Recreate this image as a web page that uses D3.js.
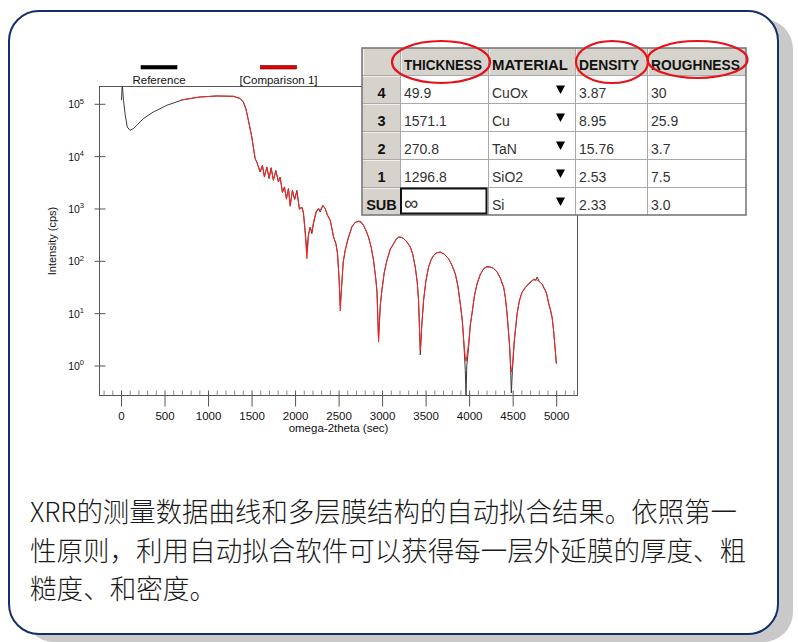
<!DOCTYPE html>
<html><head><meta charset="utf-8">
<script src="https://cdn.jsdelivr.net/npm/d3@7"></script>
<style>
html,body{margin:0;padding:0;background:#fff;}
svg{display:block;}
</style></head><body>
<svg id="fig" width="798" height="642"></svg>
<script>
// ---- measured scan (omega-2theta sec, intensity cps) ----
const referenceScan = [
  [6,1.17e5],[14,2.4e5],[29,1.17e5],[46,6.5e4],[72,3.6e4],[104,3.11e4],[138,3.33e4],[181,3.88e4],
  [256,5.21e4],[371,6.97e4],[526,9.36e4],[716,1.2e5],[909,1.35e5],[1101,1.41e5],[1291,1.39e5],
  [1369,1.26e5],[1406,1.08e5],[1434,8.09e4],[1464,4.84e4],[1503,2.32e4],[1541,8.96e3],[1561,7.71e3],
  [1599,4.96e3],[1625,6.67e3],[1648,3.98e3],[1676,6.19e3],[1702,3.72e3],[1725,6.03e3],[1751,3.44e3],
  [1779,5.35e3],[1809,3.2e3],[1829,3.98e3],[1855,2.06e3],[1878,2.57e3],[1901,1.56e3],[1924,2.39e3],
  [1944,1.15e3],[1970,2.22e3],[1995,1.49e3],[2021,2.22e3],[2050,991],[2078,1060],[2096,853],
  [2116,381],[2136,150],[2154,330],[2174,441],[2193,330],[2212,512],[2243,853],[2269,991],
  [2289,853],[2320,1150],[2346,991],[2372,738],[2404,592],[2423,411],[2442,284],[2469,212],
  [2488,137],[2507,42],[2519,14],[2536,34],[2553,93],[2576,158],[2611,268],[2653,441],[2691,542],
  [2729,566],[2760,542],[2786,475],[2818,365],[2844,284],[2875,180],[2902,102],[2927,46],[2941,27],
  [2959,3.2],[2979,14],[2998,27],[3025,60],[3056,102],[3094,165],[3132,212],[3163,257],[3189,284],
  [3220,280],[3247,265],[3283,230],[3324,183],[3352,133],[3381,76],[3404,39],[3419,17.5],[3439,1.6],
  [3456,5.8],[3477,17.5],[3502,40],[3534,76],[3565,106],[3592,127],[3628,142],[3669,147],[3715,133],
  [3764,110],[3801,84],[3841,57],[3870,34],[3899,15],[3922,7.2],[3937,3.0],[3956,0.8],[3964,0.25],
  [3973,1.0],[3994,2.2],[4013,5.8],[4033,9.7],[4060,21],[4091,36],[4129,55],[4167,71],[4204,78],
  [4244,76],[4278,72],[4321,61],[4359,46],[4397,31],[4416,20],[4436,9.7],[4451,4.7],[4466,2.2],
  [4477,0.8],[4485,0.3],[4497,0.8],[4520,3.0],[4551,9.7],[4577,17.5],[4608,25],[4646,31],[4684,36],
  [4715,40],[4742,45],[4761,42],[4781,49],[4807,40],[4838,36],[4859,30],[4876,27],[4893,23],
  [4914,15],[4934,11.8],[4953,8.4],[4968,5.1],[4980,3.0],[5002,1.08]
];

// ---- fitted model (Comparison 1) ----
const comparisonScan = [
  [690,1.18e5],[909,1.35e5],[1101,1.41e5],[1291,1.39e5],[1369,1.26e5],[1406,1.08e5],[1434,8.1e4],
  [1464,4.8e4],[1503,2.3e4],[1541,9.0e3],[1561,7.6e3],[1599,5.0e3],[1625,6.6e3],[1648,4.1e3],
  [1676,6.1e3],[1702,3.8e3],[1725,5.9e3],[1751,3.5e3],[1779,5.2e3],[1809,3.3e3],[1829,3.9e3],
  [1855,2.0e3],[1878,2.6e3],[1901,1.5e3],[1924,2.4e3],[1944,1.1e3],[1970,2.2e3],[1995,1.5e3],
  [2021,2.1e3],[2050,950],[2078,1050],[2096,800],[2116,330],[2136,110],[2154,300],[2174,430],
  [2193,360],[2212,560],[2243,880],[2269,1000],[2289,940],[2320,1120],[2346,1000],[2372,760],
  [2404,600],[2423,420],[2442,290],[2469,215],[2488,140],[2507,40],[2519,11],[2536,34],[2553,95],
  [2576,160],[2611,275],[2653,450],[2691,540],[2729,575],[2760,555],[2786,480],[2818,370],[2844,285],
  [2875,180],[2902,100],[2927,45],[2941,25],[2959,2.8],[2979,14],[2998,28],[3025,60],[3056,104],
  [3094,168],[3132,215],[3163,262],[3189,285],[3220,283],[3247,268],[3283,232],[3324,185],[3352,134],
  [3381,75],[3404,38],[3419,17],[3439,1.9],[3456,6],[3477,18],[3502,40],[3534,77],[3565,107],
  [3592,128],[3628,143],[3669,146],[3715,134],[3764,109],[3801,83],[3841,56],[3870,33],[3899,14.5],
  [3922,7],[3937,3.1],[3956,1.4],[3964,1.2],[3973,1.5],[3994,2.6],[4013,6],[4033,10],[4060,21],
  [4091,37],[4129,56],[4167,70],[4204,76],[4244,76],[4278,72],[4321,62],[4359,47],[4397,31],
  [4416,20],[4436,9.5],[4451,4.6],[4466,2.2],[4477,1.0],[4485,0.75],[4497,1.0],[4520,3.2],
  [4551,9.8],[4577,17],[4608,25],[4646,31],[4684,37],[4715,41],[4742,43],[4761,43.5],[4781,43],
  [4807,40],[4838,36],[4859,31],[4876,27],[4893,22],[4914,15.5],[4934,11.5],[4953,8.2],[4968,5],
  [4980,3.1],[5002,1.1]
];

const seriesNames = ["Reference", "[Comparison 1]"];
const xMajorTicks = [0,500,1000,1500,2000,2500,3000,3500,4000,4500,5000];
const xMinorTicks = d3.range(-200, 5201, 100).filter(v => v % 500 !== 0);
const yTickExponents = [0,1,2,3,4,5];

// ---- layer stack table ----
const tableColumns = ["THICKNESS","MATERIAL","DENSITY","ROUGHNESS"];
const layerIds   = ["4","3","2","1","SUB"];
const thickness  = ["49.9","1571.1","270.8","1296.8","\u221E"];
const materials  = ["CuOx","Cu","TaN","SiO2","Si"];
const density    = ["3.87","8.95","15.76","2.53","2.33"];
const roughness  = ["30","25.9","3.7","7.5","3.0"];
const circledColumns = ["THICKNESS","DENSITY","ROUGHNESS"];

const captionLines = [
  "XRR的测量数据曲线和多层膜结构的自动拟合结果。依照第一",
  "性原则，利用自动拟合软件可以获得每一层外延膜的厚度、粗",
  "糙度、和密度。"
];

const svg = d3.select("#fig");
const latin = "'Liberation Sans', Arial, sans-serif";

// ---- rounded panel with drop shadow ----
svg.append("rect").attr("x",24).attr("y",19).attr("width",769).attr("height",623)
  .attr("rx",30).attr("fill","#c9c9c9");
svg.append("rect").attr("x",9).attr("y",11).attr("width",769).attr("height",623)
  .attr("rx",30).attr("fill","#fff").attr("stroke","#14306b").attr("stroke-width",2);

// ---- scales ----
const box = {left:99.5, top:86.5, right:577.5, bottom:395.5};
const x = d3.scaleLinear().domain([-247, 5245]).range([box.left, box.right]);
const y = d3.scaleLog().domain([0.267, 2.14e5]).range([box.bottom, box.top]);

svg.append("defs").append("clipPath").attr("id","plotClip")
  .append("rect").attr("x",box.left).attr("y",box.top)
  .attr("width",box.right-box.left).attr("height",box.bottom-box.top);

// plot frame
svg.append("rect").attr("x",box.left).attr("y",box.top)
  .attr("width",box.right-box.left).attr("height",box.bottom-box.top)
  .attr("fill","none").attr("stroke","#555").attr("stroke-width",1);

// ---- curves ----
const line = d3.line().x(d => x(d[0])).y(d => y(d[1]));
const curves = svg.append("g").attr("clip-path","url(#plotClip)");
curves.append("path").datum(referenceScan).attr("d",line)
  .attr("fill","none").attr("stroke","#3a3a3a").attr("stroke-width",1);
curves.append("path").datum(comparisonScan).attr("d",line)
  .attr("fill","none").attr("stroke","#ff2020").attr("stroke-width",1);

// ---- x axis ----
const gMinor = svg.append("g").attr("transform",`translate(0,${box.bottom})`)
  .call(d3.axisBottom(x).tickValues(xMinorTicks).tickSize(-5).tickFormat(""));
gMinor.select(".domain").remove();
gMinor.selectAll(".tick line").attr("stroke","#8a8a8a");

const gX = svg.append("g").attr("transform",`translate(0,${box.bottom})`)
  .call(d3.axisBottom(x).tickValues(xMajorTicks).tickSizeInner(11).tickSizeOuter(0).tickFormat(d3.format("d")));
gX.select(".domain").remove();
gX.selectAll(".tick line").attr("y1",-5).attr("stroke","#555");
gX.selectAll(".tick text").attr("y",24).attr("dy",null)
  .attr("font-family",latin).attr("font-size",11.5).attr("fill","#111");

svg.append("text").attr("x",(box.left+box.right)/2).attr("y",432)
  .attr("text-anchor","middle").attr("font-family",latin).attr("font-size",11.5)
  .attr("fill","#111").text("omega-2theta (sec)");

// ---- y axis ----
const gY = svg.append("g").attr("transform",`translate(${box.left},0)`)
  .call(d3.axisLeft(y).tickValues(yTickExponents.map(e => Math.pow(10,e))).tickSize(5).tickFormat(""));
gY.select(".domain").remove();
gY.selectAll(".tick line").attr("x1",6).attr("stroke","#555");

const yLabels = svg.append("g").selectAll("text").data(yTickExponents).join("text")
  .attr("x",84).attr("y",e => y(Math.pow(10,e)) + 4.5)
  .attr("text-anchor","end").attr("font-family",latin).attr("font-size",10.5).attr("fill","#111");
yLabels.append("tspan").text("10");
yLabels.append("tspan").attr("dy",-4.5).attr("font-size",7.5).text(e => e);

svg.append("text").attr("transform",`translate(56,${(box.top+box.bottom)/2}) rotate(-90)`)
  .attr("text-anchor","middle").attr("font-family",latin).attr("font-size",11)
  .attr("fill","#111").text("Intensity (cps)");

// ---- legend ----
const legendItems = [
  {name: seriesNames[0], cx: 159, fill: "#000", stroke: "#000"},
  {name: seriesNames[1], cx: 278.5, fill: "#e80000", stroke: "#5a0000"}
];
const lg = svg.append("g").selectAll("g").data(legendItems).join("g");
lg.append("rect").attr("x",d => d.cx-18).attr("y",65.5).attr("width",36).attr("height",3.5)
  .attr("fill",d => d.fill).attr("stroke",d => d.stroke).attr("stroke-width",0.6);
lg.append("text").attr("x",d => d.cx).attr("y",84).attr("text-anchor","middle")
  .attr("font-family",latin).attr("font-size",11.5).attr("fill","#111").text(d => d.name);

// ---- layer table ----
const colX = [362, 400, 488, 575, 647, 746];
const rowY = [48, 75, 103, 131, 159, 187, 215];
const headerFill = "#d6d3cc";
const tbl = svg.append("g");

// header row background
tbl.append("rect").attr("x",colX[0]).attr("y",rowY[0]).attr("width",colX[5]-colX[0])
  .attr("height",rowY[1]-rowY[0]).attr("fill",headerFill);
// row header column background
tbl.append("rect").attr("x",colX[0]).attr("y",rowY[1]).attr("width",colX[1]-colX[0])
  .attr("height",rowY[6]-rowY[1]).attr("fill",headerFill);
// data cells
tbl.append("rect").attr("x",colX[1]).attr("y",rowY[1]).attr("width",colX[5]-colX[1])
  .attr("height",rowY[6]-rowY[1]).attr("fill","#fff");

// grid lines
tbl.selectAll("line.v").data(colX.slice(1,5)).join("line").attr("class","v")
  .attr("x1",d => d+0.5).attr("x2",d => d+0.5).attr("y1",rowY[0]).attr("y2",rowY[6])
  .attr("stroke","#a9a9a9");
tbl.selectAll("line.h").data(rowY.slice(1,6)).join("line").attr("class","h")
  .attr("x1",colX[0]).attr("x2",colX[5]).attr("y1",d => d+0.5).attr("y2",d => d+0.5)
  .attr("stroke","#a9a9a9");
// raised look on header cells
tbl.selectAll("line.hl").data(colX.slice(0,5)).join("line").attr("class","hl")
  .attr("x1",d => d+1.5).attr("x2",d => d+1.5).attr("y1",rowY[0]+1).attr("y2",rowY[1])
  .attr("stroke","#f2f0ec");
tbl.selectAll("line.rl").data(rowY.slice(1,6)).join("line").attr("class","rl")
  .attr("x1",colX[0]+1).attr("x2",colX[1]).attr("y1",d => d+1.5).attr("y2",d => d+1.5)
  .attr("stroke","#f2f0ec");
// outer border
tbl.append("rect").attr("x",colX[0]).attr("y",rowY[0]).attr("width",colX[5]-colX[0])
  .attr("height",rowY[6]-rowY[0]).attr("fill","none").attr("stroke","#7a7a7a").attr("stroke-width",1.6);

// header labels
const headerWidths = [78, 76, 60, 89];
tbl.selectAll("text.hdr").data(tableColumns).join("text").attr("class","hdr")
  .attr("x",(d,i) => colX[i+1] + 4).attr("y",70)
  .attr("font-family",latin).attr("font-weight","bold").attr("font-size",14.5)
  .attr("textLength",(d,i) => headerWidths[i]).attr("lengthAdjust","spacingAndGlyphs")
  .attr("fill","#111").text(d => d);

// row labels
tbl.selectAll("text.rid").data(layerIds).join("text").attr("class","rid")
  .attr("x",(colX[0]+colX[1])/2 + 0.5).attr("y",(d,i) => rowY[i+1] + 22.5)
  .attr("text-anchor","middle").attr("font-family",latin).attr("font-weight","bold")
  .attr("font-size",14.5).attr("fill","#111").text(d => d);

// cell values
const cellColumns = [thickness, materials, density, roughness];
cellColumns.forEach((col, ci) => {
  tbl.selectAll(null).data(col).join("text")
    .attr("x",colX[ci+1] + 4).attr("y",(d,i) => rowY[i+1] + 22.5)
    .attr("font-family",latin).attr("font-size",d => d === "\u221E" ? 20 : 14)
    .attr("fill","#333").text(d => d);
});

// drop-down arrows in the material column
tbl.selectAll("path.arrow").data(materials).join("path").attr("class","arrow")
  .attr("d",(d,i) => {
    const cx = 560.5, cy = (rowY[i+1] + rowY[i+2]) / 2 + 0.5;
    return `M${cx-4.5},${cy-4}L${cx+4.5},${cy-4}L${cx},${cy+4.5}Z`;
  })
  .attr("fill","#000");

// active editing cell (substrate thickness)
tbl.append("rect").attr("x",colX[1]+1).attr("y",rowY[5]+1.5).attr("width",colX[2]-colX[1]-2.5)
  .attr("height",rowY[6]-rowY[5]-3).attr("fill","none").attr("stroke","#111").attr("stroke-width",2);

// red ellipses highlighting fitted parameters
const ellipseSpec = {
  THICKNESS: {cx: 441, cy: 62, rx: 49, ry: 21},
  DENSITY:   {cx: 612, cy: 62, rx: 36, ry: 21},
  ROUGHNESS: {cx: 697.5, cy: 59.5, rx: 50, ry: 18.5}
};
svg.append("g").selectAll("ellipse").data(circledColumns).join("ellipse")
  .attr("cx",d => ellipseSpec[d].cx).attr("cy",d => ellipseSpec[d].cy)
  .attr("rx",d => ellipseSpec[d].rx).attr("ry",d => ellipseSpec[d].ry)
  .attr("fill","none").attr("stroke","#e8101a").attr("stroke-width",2.2);

// ---- caption ----
const captionLengths = [707, 716, 186];
svg.append("g").selectAll("text").data(captionLines).join("text")
  .attr("x",30).attr("y",(d,i) => 522 + i*38.5)
  .attr("font-family","'Noto Sans CJK SC', sans-serif").attr("font-size",27).attr("font-weight",300)
  .attr("textLength",(d,i) => captionLengths[i]).attr("lengthAdjust","spacingAndGlyphs")
  .attr("fill","#1a1a1a").text(d => d);
</script></body></html>
